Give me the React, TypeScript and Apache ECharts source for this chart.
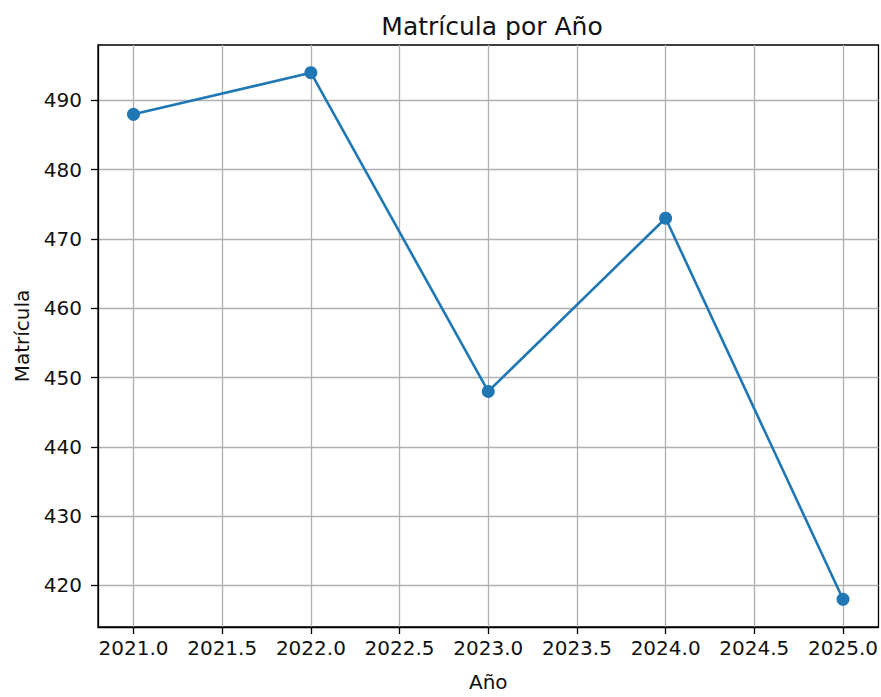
import React, { useEffect, useRef } from "react";
import * as echarts from "echarts";

const years = [2021, 2022, 2023, 2024, 2025];
const enrollment = [488, 494, 448, 473, 418];
const xTicks = [2021.0, 2021.5, 2022.0, 2022.5, 2023.0, 2023.5, 2024.0, 2024.5, 2025.0];
const yTicks = [420, 430, 440, 450, 460, 470, 480, 490];

const FONT = "DejaVu Sans";

export default function App() {
  const ref = useRef<HTMLDivElement>(null);
  useEffect(() => {
    if (!ref.current) return;
    const chart = echarts.init(ref.current, undefined, { renderer: "svg" });
    chart.setOption({
      animation: false,
      backgroundColor: "#ffffff",
      title: {
        text: "Matrícula por Año",
        left: 487,
        top: 9,
        textAlign: "center",
        textStyle: { fontFamily: FONT, fontSize: 25, fontWeight: "normal", color: "#111" },
      },
      grid: {
        left: 98,
        right: 2,
        top: 45,
        bottom: 68,
        show: true,
        borderColor: "#000",
        borderWidth: 1.3,
        backgroundColor: "transparent",
      },
      xAxis: {
        type: "value",
        min: 2020.8,
        max: 2025.2,
        name: "Año",
        nameLocation: "middle",
        nameGap: 45,
        nameTextStyle: { fontFamily: FONT, fontSize: 20, color: "#111" },
        axisLine: { show: true, onZero: false, lineStyle: { color: "#000", width: 1.3 } },
        axisTick: { show: true, inside: false, length: 7, customValues: xTicks, lineStyle: { color: "#000", width: 1.3 } },
        axisLabel: {
          customValues: xTicks,
          formatter: (v: number) => v.toFixed(1),
          fontFamily: FONT,
          fontSize: 20,
          color: "#111",
          margin: 11,
        },
        splitLine: { show: true, lineStyle: { color: "#b0b0b0", width: 1.3 } },
      },
      yAxis: {
        type: "value",
        min: 414,
        max: 498,
        name: "Matrícula",
        nameLocation: "middle",
        nameGap: 66,
        nameRotate: 90,
        nameTextStyle: { fontFamily: FONT, fontSize: 20, color: "#111" },
        axisLine: { show: true, onZero: false, lineStyle: { color: "#000", width: 1.3 } },
        axisTick: { show: true, inside: false, length: 7, customValues: yTicks, lineStyle: { color: "#000", width: 1.3 } },
        axisLabel: {
          customValues: yTicks,
          fontFamily: FONT,
          fontSize: 20,
          color: "#111",
          margin: 16,
        },
        splitLine: { show: true, lineStyle: { color: "#b0b0b0", width: 1.3 } },
      },
      series: [
        {
          type: "line",
          data: years.map((y, i) => [y, enrollment[i]]),
          symbol: "circle",
          symbolSize: 13,
          itemStyle: { color: "#1f77b4" },
          lineStyle: { color: "#1f77b4", width: 2.6 },
        },
      ],
    });
    return () => chart.dispose();
  }, []);
  return (
    <div
      ref={ref}
      style={{ position: "fixed", left: 0, top: 0, width: 881, height: 697 }}
    />
  );
}
